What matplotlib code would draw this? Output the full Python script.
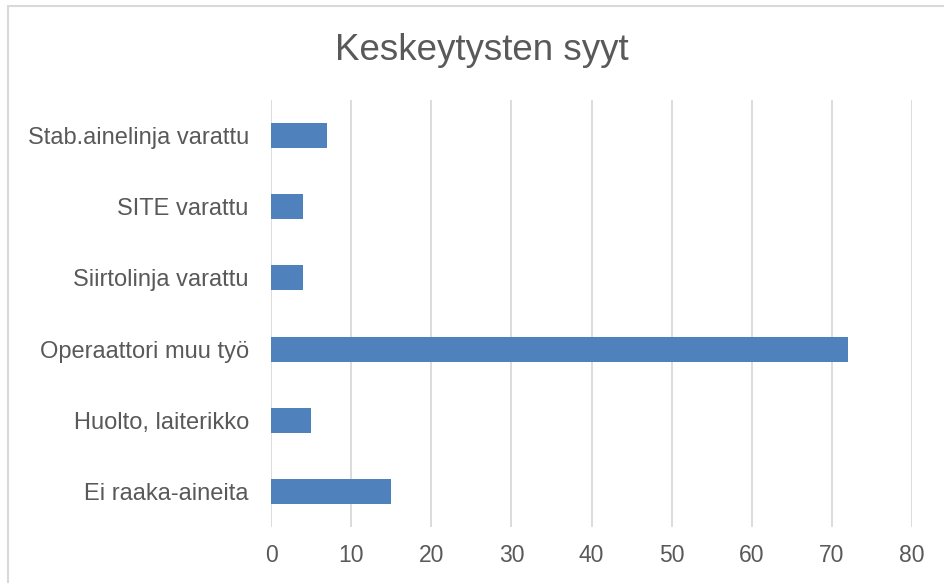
import matplotlib
matplotlib.use("Agg")
import matplotlib.pyplot as plt
from matplotlib.patches import Rectangle

categories = ["Ei raaka-aineita", "Huolto, laiterikko", "Operaattori muu työ",
              "Siirtolinja varattu", "SITE varattu", "Stab.ainelinja varattu"]
values = [15, 5, 72, 4, 4, 7]
xticks = [0, 10, 20, 30, 40, 50, 60, 70, 80]
title = "Keskeytysten syyt"

plt.rcParams['font.family'] = ['Liberation Sans', 'DejaVu Sans']
W, H = 944, 583
fig = plt.figure(figsize=(W / 100, H / 100), dpi=100)
fig.patch.set_facecolor("white")

# outer frame (only top and left visible in reference)
fig.patches.append(Rectangle((8 / W, -0.1), 1.2, (1 - 6 / H) + 0.1,
                             transform=fig.transFigure, fill=False,
                             edgecolor="#d9d9d9", linewidth=1.5))

ax = fig.add_axes([271 / W, 1 - 527 / H, (912 - 271) / W, (527 - 100) / H])
ypos = list(range(len(categories)))
ax.barh(ypos, values, height=0.35, color="#4F81BD", zorder=3)
ax.set_xlim(0, 80)
ax.set_ylim(-0.5, len(categories) - 0.5)
ax.set_xticks(xticks)
ax.set_xticklabels([str(t) for t in xticks], fontsize=16.5, color="#595959")
ax.set_yticks(ypos)
ax.set_yticklabels(categories, fontsize=17, color="#595959")
ax.tick_params(axis="both", length=0)
ax.tick_params(axis="x", pad=12)
ax.tick_params(axis="y", pad=16)
ax.grid(axis="x", color="#d9d9d9", linewidth=1.3, zorder=0)
for s in ax.spines.values():
    s.set_visible(False)

fig.text(482 / W, 1 - 60 / H, title, ha="center", va="baseline",
         fontsize=26.5, color="#595959")

fig.savefig("out.png", dpi=100)
